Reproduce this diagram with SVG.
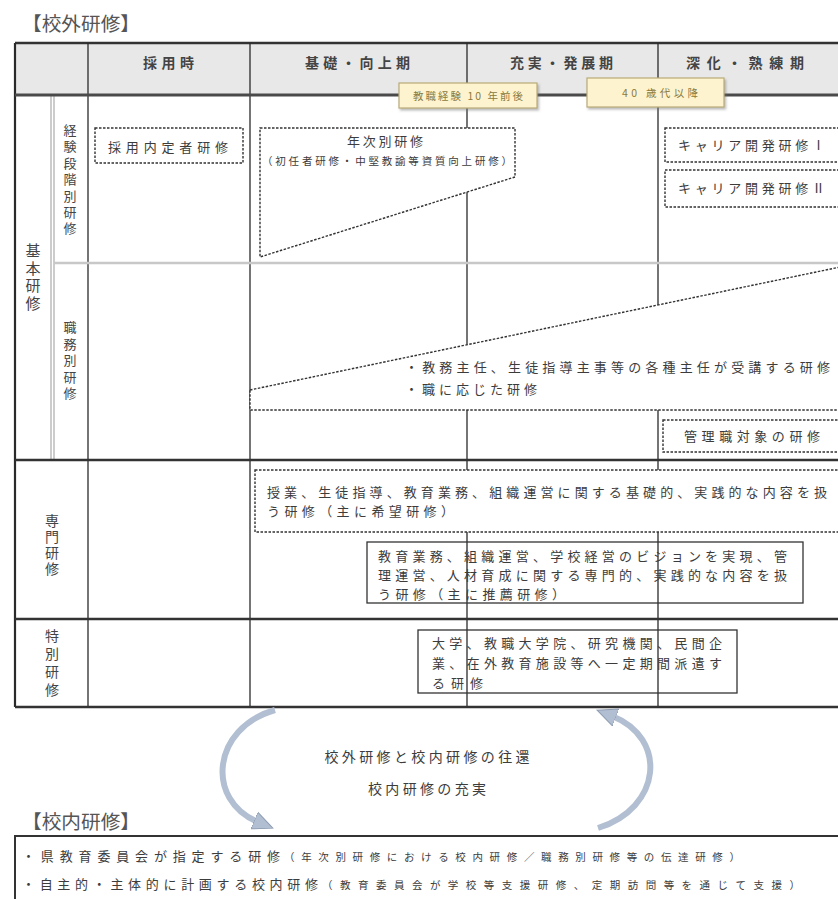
<svg xmlns="http://www.w3.org/2000/svg" width="838" height="899" viewBox="0 0 838 899">
<style>
text{font-family:"Noto Sans CJK JP","Noto Sans",sans-serif;fill:#3c3c3c}
.title{font-size:19px;fill:#555}
.hd{font-size:14px;font-weight:bold;fill:#444}
.lbl{font-size:14px;writing-mode:vertical-rl;text-anchor:middle;fill:#444}
.t{font-size:13px}
.s{font-size:10.5px}
.yt{font-size:10.5px;fill:#8a7a3c}
.thin{stroke:#2a2a2a;stroke-width:1.3;fill:none}
.thick{stroke:#333;stroke-width:2.6;fill:none}
.gray{stroke:#c8c8c8;stroke-width:2.5;fill:none}
.dbox{fill:#fff;stroke:#333;stroke-width:1.4;stroke-dasharray:2.5 1.5}
.sbox{fill:none;stroke:#333;stroke-width:1.3}
.ybox{fill:#fdf4cf;stroke:#b9ab78;stroke-width:1.2}
.arr{fill:none;stroke:#b2bfd2;stroke-width:6}
</style>
<defs>
<filter id="sh" x="-10%" y="-20%" width="130%" height="160%"><feDropShadow dx="1.5" dy="2" stdDeviation="1.2" flood-color="#777" flood-opacity="0.5"/></filter>
<marker id="ah" markerUnits="userSpaceOnUse" markerWidth="22" markerHeight="22" refX="4" refY="11" orient="auto" viewBox="0 0 22 22"><polygon points="0,2 20,11 0,20" fill="#b2bfd2" stroke="#8f9db3" stroke-width="1"/></marker>
</defs>

<text class="title" x="22" y="31" textLength="118" lengthAdjust="spacingAndGlyphs">【校外研修】</text>

<g id="table">
<rect x="15" y="43" width="830" height="52" fill="#e8e8e8"/>
<line class="thick" x1="15" y1="43" x2="838" y2="43"/>
<line class="thin" x1="15" y1="43" x2="15" y2="707" style="stroke-width:2.2"/>
<line class="thin" x1="88" y1="43" x2="88" y2="707"/>
<line class="thin" x1="250" y1="43" x2="250" y2="707"/>
<line class="thin" x1="467" y1="43" x2="467" y2="707"/>
<line class="thin" x1="658" y1="43" x2="658" y2="707"/>
<line x1="51" y1="95" x2="51" y2="460" stroke="#999" stroke-width="1"/>
<line x1="54" y1="95" x2="54" y2="460" stroke="#999" stroke-width="1"/>
<line class="gray" x1="54" y1="263" x2="838" y2="263"/>
<line x1="15" y1="95" x2="838" y2="95" stroke="#4a4a4a" stroke-width="3.2"/>
<line class="thick" x1="15" y1="460" x2="838" y2="460"/>
<line class="thick" x1="15" y1="619" x2="838" y2="619"/>
<line class="thick" x1="15" y1="707" x2="838" y2="707"/>
</g>

<g id="headers">
<text class="hd" x="143" y="68" textLength="51" lengthAdjust="spacing">採用時</text>
<text class="hd" x="305" y="68" textLength="105" lengthAdjust="spacing">基礎・向上期</text>
<text class="hd" x="510" y="68" textLength="103" lengthAdjust="spacing">充実・発展期</text>
<text class="hd" x="686" y="68" textLength="118" lengthAdjust="spacing">深化・熟練期</text>
</g>

<g id="milestone1"><rect class="ybox" x="399" y="83" width="138" height="25" filter="url(#sh)"/>
<text class="yt" x="468" y="100" text-anchor="middle" textLength="110" lengthAdjust="spacing">教職経験 10 年前後</text></g>
<g id="milestone2"><rect class="ybox" x="587" y="78" width="137" height="29" filter="url(#sh)"/>
<text class="yt" x="660" y="97" text-anchor="middle" textLength="76" lengthAdjust="spacing">40 歳代以降</text></g>

<g id="row-labels">
<text class="lbl" x="33" y="278" style="font-size:15px;letter-spacing:2.5px">基本研修</text>
<text class="lbl" x="70" y="181" style="font-size:13px;letter-spacing:3.4px">経験段階別研修</text>
<text class="lbl" x="70" y="362" style="font-size:13px;letter-spacing:3.6px">職務別研修</text>
<text class="lbl" x="52" y="546" style="letter-spacing:2px">専門研修</text>
<text class="lbl" x="52" y="665" style="letter-spacing:4px">特別研修</text>
</g>

<g id="saiyo"><rect class="dbox" x="95" y="128" width="148" height="35"/>
<text class="t" x="108" y="152" textLength="120" lengthAdjust="spacing">採用内定者研修</text></g>

<g id="nenji"><polygon class="dbox" points="260,128 515,128 515,177 260,257"/>
<text class="t" x="385" y="146" text-anchor="middle" textLength="76" lengthAdjust="spacing">年次別研修</text>
<text class="s" x="262" y="165" textLength="250" lengthAdjust="spacing">（初任者研修・中堅教諭等資質向上研修）</text></g>

<g id="career1"><rect class="dbox" x="665" y="128" width="185" height="34"/>
<text class="t" x="678" y="150" textLength="147" lengthAdjust="spacing">キャリア開発研修Ⅰ</text></g>
<g id="career2"><rect class="dbox" x="665" y="170" width="185" height="37"/>
<text class="t" x="678" y="193" textLength="147" lengthAdjust="spacing">キャリア開発研修Ⅱ</text></g>

<g id="shokumu"><polygon class="dbox" points="250,390 845,266 845,410 250,410"/>
<text class="t" x="405" y="372" textLength="425" lengthAdjust="spacing">・教務主任、生徒指導主事等の各種主任が受講する研修</text>
<text class="t" x="405" y="394" textLength="132" lengthAdjust="spacing">・職に応じた研修</text></g>

<g id="kanri"><rect class="dbox" x="663" y="420" width="185" height="32"/>
<text class="t" x="684" y="441" textLength="136" lengthAdjust="spacing">管理職対象の研修</text></g>

<g id="senmon1"><rect class="dbox" x="255" y="470" width="595" height="62"/>
<text class="t" x="267" y="497" textLength="560" lengthAdjust="spacing">授業、生徒指導、教育業務、組織運営に関する基礎的、実践的な内容を扱</text>
<text class="t" x="267" y="516" textLength="187" lengthAdjust="spacing">う研修（主に希望研修）</text></g>

<g id="senmon2"><rect class="sbox" x="367" y="542" width="436" height="61"/>
<text class="t" x="378" y="561" textLength="409" lengthAdjust="spacing">教育業務、組織運営、学校経営のビジョンを実現、管</text>
<text class="t" x="378" y="580" textLength="409" lengthAdjust="spacing">理運営、人材育成に関する専門的、実践的な内容を扱</text>
<text class="t" x="378" y="599" textLength="187" lengthAdjust="spacing">う研修（主に推薦研修）</text></g>

<g id="tokubetsu"><rect class="sbox" x="418" y="630" width="319" height="63"/>
<text class="t" x="432" y="648" textLength="290" lengthAdjust="spacing">大学、教職大学院、研究機関、民間企</text>
<text class="t" x="432" y="668" textLength="290" lengthAdjust="spacing">業、在外教育施設等へ一定期間派遣す</text>
<text class="t" x="432" y="688" textLength="51" lengthAdjust="spacing">る研修</text></g>

<g id="connectors">
<path class="arr" d="M 275 710 C 212 728, 205 800, 258 822" marker-end="url(#ah)"/>
<path class="arr" d="M 598 828 C 662 808, 668 738, 612 716" marker-end="url(#ah)"/>
</g>

<g id="center-text">
<text x="427" y="762" text-anchor="middle" style="font-size:14px" textLength="205" lengthAdjust="spacing">校外研修と校内研修の往還</text>
<text x="427" y="794" text-anchor="middle" style="font-size:14px" textLength="118" lengthAdjust="spacing">校内研修の充実</text>
</g>

<text class="title" x="22" y="829" textLength="118" lengthAdjust="spacingAndGlyphs">【校内研修】</text>

<g id="konai">
<rect x="15" y="836" width="840" height="70" fill="#fff" stroke="#333" stroke-width="2"/>
<text class="t" x="22" y="861" textLength="258" lengthAdjust="spacing">・県教育委員会が指定する研修</text>
<text class="s" x="284" y="861" textLength="456" lengthAdjust="spacing">（年次別研修における校内研修／職務別研修等の伝達研修）</text>
<text class="t" x="22" y="889" textLength="296" lengthAdjust="spacing">・自主的・主体的に計画する校内研修</text>
<text class="s" x="322" y="889" textLength="478" lengthAdjust="spacing">（教育委員会が学校等支援研修、定期訪問等を通じて支援）</text>
</g>
</svg>
